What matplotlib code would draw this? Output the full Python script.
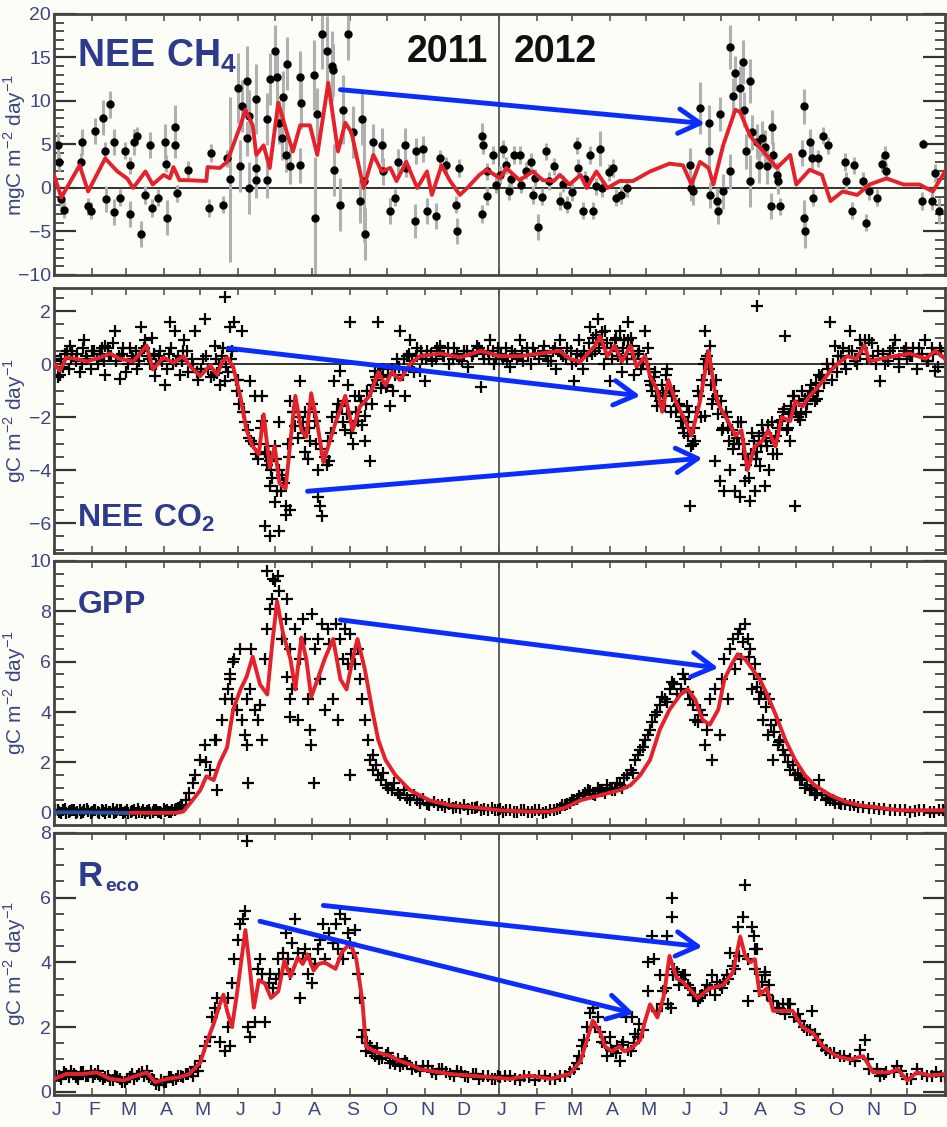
import numpy as np
import matplotlib
matplotlib.use("Agg")
import matplotlib.pyplot as plt
from matplotlib import font_manager
from matplotlib.ticker import MultipleLocator
import matplotlib.transforms as mtransforms

names = {f.name for f in font_manager.fontManager.ttflist}
NARROW = 'Liberation Sans Narrow' if 'Liberation Sans Narrow' in names else 'Liberation Sans'

plt.rcParams['font.family'] = ['Liberation Sans', 'DejaVu Sans']
plt.rcParams['mathtext.fontset'] = 'custom'
plt.rcParams['mathtext.rm'] = 'Liberation Sans'
plt.rcParams['mathtext.bf'] = NARROW + ':bold'

# ---------------- data (day of record, 0 = 1 Jan 2011) ----------------
month_letters = ['J', 'F', 'M', 'A', 'M', 'J', 'J', 'A', 'S', 'O', 'N', 'D'] * 2
month_start = [0, 31, 59, 90, 120, 151, 181, 212, 243, 273, 304, 334,
               365, 396, 425, 456, 486, 517, 547, 578, 609, 639, 670, 700]
year_break = 365
year_labels = ['2011', '2012']

# CH4 smoothed line
ch4_line_day = [0, 6, 21, 28, 42, 52, 60, 65, 75, 81, 90, 95, 98, 103, 109, 125, 126, 136, 142, 153,
                157, 163, 166, 172, 177, 184, 191, 196, 202, 210, 216, 225, 233, 239, 244, 254, 262, 269, 276, 281,
                289, 298, 306, 310, 318, 325, 333, 339, 349, 355, 366, 371, 382, 393, 401, 410, 415, 423, 432, 437,
                445, 454, 464, 475, 489, 505, 516, 523, 530, 537, 541, 549, 559, 563, 571, 582, 593, 604, 609, 620,
                630, 637, 647, 659, 669, 683, 697, 710, 721, 731]
ch4_line_val = [1.5, -1.1, 2.6, -0.4, 3.4, 1.9, 1.1, 0.0, 1.9, 0.4, 1.5, 1.1, 2.4, 0.9, 0.9, 0.8, 2.4, 2.3, 3.0, 7.2,
                9.0, 7.2, 3.8, 4.9, 2.3, 9.8, 6.4, 4.2, 7.2, 7.2, 3.8, 12.1, 4.2, 7.5, 6.4, 0.0, 3.8, 1.9, 2.3, 0.8,
                3.0, 0.0, 1.9, -0.8, 2.6, 0.8, -0.8, 0.0, 1.5, 2.1, 1.1, 2.3, 0.9, 1.9, 0.9, 0.8, 1.5, 0.4, 1.5, 0.0,
                1.9, 0.0, 0.8, 0.8, 1.9, 2.8, 2.6, 0.4, 3.0, 2.3, 0.4, 4.9, 9.0, 8.7, 6.0, 4.2, 2.3, 3.8, 0.4, 2.1,
                1.5, -1.5, -0.4, -0.8, 0.4, 1.1, 0.4, 0.4, -0.4, 1.9]

# CH4 daily observations and their uncertainty
ch4_pt_day = [3, 4, 6, 8, 22, 23, 28, 30, 34, 40, 42, 43, 46, 49, 49, 54, 58, 62, 62, 66,
              68, 71, 75, 79, 80, 85, 91, 92, 93, 99, 99, 101, 110, 127, 129, 139, 142, 144, 151, 153,
              154, 158, 160, 158, 160, 166, 166, 166, 175, 175, 177, 181, 183, 185, 187, 188, 190, 191, 194, 202,
              203, 202, 213, 214, 216, 220, 224, 228, 229, 230, 235, 237, 241, 245, 251, 253, 254, 255, 262, 269,
              270, 276, 280, 282, 288, 289, 296, 297, 303, 306, 313, 317, 322, 330, 331, 332, 351, 352, 351, 355,
              355, 360, 363, 366, 368, 371, 373, 375, 377, 382, 383, 387, 391, 393, 395, 397, 400, 404, 406, 410,
              415, 418, 421, 425, 429, 430, 434, 436, 440, 442, 445, 448, 450, 455, 459, 461, 465, 470, 522, 523,
              524, 530, 537, 537, 538, 544, 545, 546, 549, 555, 555, 557, 559, 563, 565, 566, 568, 571, 571, 573,
              577, 578, 581, 583, 585, 589, 590, 588, 593, 594, 596, 614, 615, 615, 616, 620, 622, 623, 627, 631,
              635, 649, 650, 655, 656, 664, 666, 669, 675, 679, 682, 683, 712, 713, 720, 723, 726]
ch4_pt_val = [4.9, 3.0, -1.3, -2.5, 3.0, 5.3, -2.1, -2.6, 6.6, 8.1, 4.3, -1.3, 9.6, 5.3, -2.8, -1.1, 4.3, 2.6, -3.0, 5.3,
              6.0, -5.3, -0.8, 4.9, -2.3, -1.1, 5.3, 2.8, -3.4, 7.0, 4.9, -0.6, 2.1, -2.3, 4.0, -1.9, 3.4, 1.0, 11.5, 2.5,
              9.4, 12.3, 8.3, 5.7, 0.0, 10.2, 2.3, 0.9, 7.9, 0.9, 12.5, 15.7, 12.8, 7.5, 5.7, 10.4, 3.8, 14.3, 2.5, 12.8,
              9.8, 2.6, 13.0, -3.4, 8.5, 17.7, 15.8, 14.0, 13.6, 2.1, -1.9, 9.0, 17.7, 6.4, -1.5, 7.9, 0.8, -5.3, 5.3, 4.9,
              1.9, -2.6, -1.1, 3.0, 4.9, 2.3, -3.8, 4.2, 4.5, -2.6, -3.2, 3.4, 2.6, -1.9, -4.9, 2.3, 6.0, 4.9, -3.0, 1.9,
              -0.9, 3.8, 0.4, 1.5, 4.5, 2.6, -0.4, 1.0, 3.8, 3.8, 0.4, 2.0, 3.0, -0.8, 1.2, -4.5, -1.0, 4.2, 0.8, 2.5,
              -1.5, 0.5, -1.9, -0.5, 4.9, 2.3, -2.6, 1.0, 3.8, -2.6, 0.2, 4.5, 0.0, 1.8, 2.3, -1.1, -0.8, 0.0, 2.6, 0.0,
              -0.4, 9.2, 7.5, 4.3, -0.8, -1.5, -2.6, 8.5, -0.4, 16.2, 1.9, 10.6, 13.2, 11.5, 14.5, 9.0, 4.2, 12.3, 0.8, 6.4,
              5.3, 2.6, 5.7, 4.7, 2.5, 7.0, 3.8, -2.1, 1.5, 0.8, -2.1, 4.0, 9.4, -3.4, -4.9, 5.3, 3.4, -1.1, 3.4, 6.0,
              4.9, 3.0, 0.8, -2.6, 2.6, 0.8, -4.0, -0.4, -1.1, 2.8, 3.8, 1.9, -1.5, 5.1, -1.5, 1.7, -2.6]
ch4_pt_err = [1.5, 1.0, 1.0, 1.0, 1.0, 1.5, 1.0, 1.0, 1.5, 2.0, 1.0, 1.5, 1.5, 1.5, 1.5, 1.0, 1.0, 1.0, 1.5, 1.5,
              1.0, 1.5, 1.0, 1.5, 1.0, 1.0, 2.0, 1.0, 2.0, 2.5, 1.5, 1.0, 1.0, 1.0, 1.0, 1.0, 1.0, 9.5, 4.0, 3.0,
              3.0, 4.0, 3.0, 2.0, 3.0, 4.0, 2.0, 2.0, 3.0, 2.0, 3.0, 3.0, 3.0, 2.5, 2.5, 3.0, 2.0, 3.0, 2.0, 3.0,
              3.0, 2.0, 4.0, 7.0, 3.0, 4.0, 4.0, 4.0, 3.0, 3.0, 3.0, 4.0, 3.0, 3.0, 2.5, 3.0, 7.0, 3.0, 2.0, 2.0,
              1.5, 1.5, 1.0, 1.5, 2.0, 1.0, 2.0, 1.5, 1.5, 1.5, 1.5, 1.0, 1.0, 1.0, 1.5, 1.0, 1.5, 1.0, 1.0, 1.0,
              1.0, 1.0, 1.0, 1.0, 1.0, 1.0, 1.0, 1.0, 1.0, 1.0, 1.0, 1.0, 1.0, 1.0, 1.0, 1.5, 1.0, 1.0, 1.0, 1.0,
              1.0, 1.0, 1.0, 1.0, 1.0, 1.0, 1.0, 1.0, 1.0, 1.0, 1.0, 2.0, 1.0, 1.0, 1.0, 1.0, 1.0, 1.0, 2.0, 1.5,
              1.5, 3.0, 2.0, 2.0, 1.5, 1.5, 1.5, 2.0, 2.0, 2.5, 2.0, 2.0, 2.0, 2.5, 2.5, 2.0, 2.0, 2.5, 3.0, 2.0,
              2.0, 2.0, 2.0, 2.0, 2.0, 2.0, 1.5, 1.5, 1.5, 1.5, 1.0, 1.5, 2.0, 2.0, 2.0, 1.5, 1.5, 1.0, 1.0, 1.0,
              1.0, 1.0, 1.0, 1.0, 1.0, 1.0, 1.0, 1.0, 1.0, 1.0, 1.0, 1.0, 1.0, 0.5, 1.0, 1.0, 1.5]

# CO2 smoothed line
co2_line_day = [0, 5, 10, 18, 27, 38, 46, 54, 65, 76, 81, 90, 98, 106, 112, 120, 128, 134, 138, 142,
                147, 153, 158, 163, 168, 172, 177, 181, 185, 190, 194, 198, 203, 207, 211, 216, 221, 231, 239, 245,
                251, 259, 266, 272, 277, 284, 292, 300, 317, 333, 350, 366, 382, 399, 415, 423, 432, 444, 448, 454,
                460, 466, 473, 478, 485, 489, 495, 499, 504, 510, 518, 523, 530, 537, 542, 546, 553, 559, 564, 569,
                575, 581, 586, 592, 597, 604, 608, 614, 620, 628, 637, 645, 651, 658, 665, 669, 678, 690, 702, 715,
                723, 731]
co2_line_val = [0.0, -0.25, 0.25, 0.2, 0.1, 0.25, 0.4, 0.2, 0.1, 0.7, -0.2, 0.25, 0.05, 0.3, -0.1, -0.45, -0.05, -0.4, 0.1, 0.25,
                -0.1, -1.25, -2.5, -3.1, -3.4, -1.9, -3.9, -3.1, -4.5, -4.7, -2.9, -1.2, -2.5, -2.75, -1.1, -2.25, -3.7, -2.2, -1.2, -2.5,
                -1.6, -1.2, -0.3, -0.8, -0.3, -0.6, 0.0, 0.3, 0.4, 0.25, 0.5, 0.3, 0.3, 0.4, 0.5, 0.2, 0.1, 0.7, 1.05, 0.3,
                0.7, 0.1, 0.7, -0.1, 0.3, -0.45, -1.0, -1.8, -0.6, -1.4, -2.15, -2.7, -1.4, 0.5, -1.0, -1.6, -2.15, -2.7, -2.5, -4.0,
                -3.1, -2.9, -2.5, -3.1, -2.0, -2.15, -1.4, -1.6, -1.2, -0.8, -0.25, 0.1, 0.3, 0.2, 0.7, 0.1, 0.2, 0.3, 0.4, 0.2,
                0.5, 0.2]

# CO2 daily observations
co2_pt_day = [0, 3, 5, 6, 9, 12, 13, 15, 18, 21, 24, 25, 27, 30, 33, 36, 39, 42, 42, 45,
              48, 50, 51, 54, 56, 59, 62, 65, 68, 71, 72, 75, 77, 79, 80, 83, 84, 87, 91, 93,
              95, 96, 99, 100, 103, 106, 107, 110, 113, 116, 118, 121, 124, 125, 129, 132, 133, 134, 136, 139,
              140, 140, 143, 144, 146, 148, 150, 152, 154, 156, 159, 161, 162, 165, 166, 169, 171, 171, 173, 173,
              175, 177, 177, 177, 179, 181, 181, 183, 185, 185, 185, 187, 190, 190, 192, 194, 194, 196, 198, 200,
              202, 204, 206, 206, 208, 210, 212, 214, 215, 217, 217, 218, 220, 222, 225, 226, 228, 230, 233, 235,
              237, 239, 239, 241, 243, 245, 247, 249, 250, 253, 255, 255, 257, 259, 261, 263, 264, 266, 268, 270,
              272, 274, 276, 278, 281, 284, 286, 288, 290, 292, 295, 298, 300, 302, 304, 306, 310, 314, 317, 320,
              324, 328, 332, 336, 340, 344, 347, 350, 353, 356, 358, 361, 364, 368, 371, 374, 378, 382, 385, 388,
              391, 395, 402, 405, 409, 412, 415, 418, 421, 425, 427, 429, 431, 434, 437, 440, 442, 444, 446, 449,
              451, 452, 454, 456, 458, 461, 463, 464, 466, 468, 470, 471, 473, 474, 476, 479, 482, 485, 487, 489,
              491, 493, 495, 497, 499, 501, 503, 506, 509, 512, 514, 516, 519, 520, 522, 524, 526, 528, 531, 534,
              534, 536, 538, 540, 542, 544, 546, 548, 550, 552, 555, 557, 559, 561, 563, 565, 567, 569, 571, 573,
              575, 577, 577, 579, 581, 583, 585, 587, 589, 591, 593, 596, 598, 600, 602, 604, 606, 608, 610, 612,
              614, 617, 619, 621, 624, 626, 628, 630, 634, 637, 638, 641, 643, 647, 650, 653, 655, 659, 661, 663,
              667, 669, 671, 674, 678, 680, 684, 688, 690, 693, 697, 700, 702, 705, 708, 712, 715, 717, 720, 723,
              725, 728, 731,
              1, 7, 11, 14, 19, 23, 26, 31, 35, 38, 41, 44, 47, 53, 57, 61, 64, 67, 70, 74,
              78, 82, 86, 89, 94, 98, 102, 105, 109, 114, 117, 122, 126, 131, 135, 138, 141, 145, 149,
              151, 155, 157, 160, 164, 167, 170, 174, 178, 182, 186, 189, 193, 197, 201, 205, 209, 213, 219, 224,
              227, 232, 236, 240, 244, 248, 252, 256, 260, 262, 265, 269, 273, 277, 280, 283, 287, 291, 294, 297,
              301, 305, 309, 313, 316, 319, 323, 327, 331, 335, 339, 343, 349, 352, 357, 360, 363,
              367, 372, 376, 380, 384, 389, 393, 398, 401, 404, 408, 411, 416, 420, 424, 428, 432, 435, 439, 441,
              445, 447, 450, 453, 457, 460, 462, 465, 467, 471, 474, 477, 480, 483, 486,
              488, 490, 492, 494, 497, 500, 502, 505, 507, 510, 513, 515, 517, 520, 521, 523, 525, 527, 529, 532,
              533, 535, 537, 539, 541, 543, 545, 547, 549, 551, 553, 554, 556, 558, 560, 562, 564, 566, 568, 570,
              572, 574, 576, 578, 580, 582, 584, 586, 588, 590, 592, 594, 597, 599, 601, 603, 605, 607, 609, 611,
              613, 616, 618, 620, 623, 625, 627, 629, 632, 635, 639, 642, 646, 649, 652, 657, 661, 665, 672, 676,
              682, 686, 693, 699, 704, 710, 716, 721, 727]
co2_pt_val = [0.3, -0.5, -0.4, 0.2, 0.4, -0.2, 0.7, 0.5, 0.1, -0.3, 0.6, 0.9, 0.2, -0.2, 0.5, 0.0, 0.6, 0.7, -0.4, 0.3,
              0.8, 1.25, 0.1, -0.55, 0.4, -0.3, 0.6, 0.2, -0.2, 1.4, 0.5, 0.9, 0.3, 0.0, 1.0, -0.45, 0.0, 0.5, -0.8, -0.2,
              1.6, 0.6, 1.25, 0.1, -0.4, 0.5, 0.9, -0.3, 0.2, 1.25, -0.6, -0.2, 1.7, 0.3, -0.5, 0.7, 0.2, -0.35, -0.8, 0.6,
              2.55, -0.65, -0.3, 1.4, 0.5, 1.6, -1.0, -1.5, 1.25, -1.8, -2.5, -0.65, -2.9, -1.2, -3.4, -3.0, -2.15, -1.2, -3.3, -6.1,
              -3.8, -3.65, -4.6, -6.5, -4.3, -5.2, -3.1, -4.8, -4.0, -6.3, -2.2, -4.2, -5.35, -5.7, -3.0, -1.4, -5.5, -1.8, -2.35, -2.8,
              -0.65, -2.2, -3.3, -1.8, -3.6, -2.9, -1.5, -2.15, -3.0, -5.0, -4.0, -5.35, -5.75, -3.5, -2.9, -3.65, -2.0, -0.65, -1.5, -0.25,
              -2.2, -1.4, -2.5, -0.8, 1.6, -3.0, -1.2, -2.15, -1.2, -2.3, -2.9, -1.95, -1.0, -3.65, -1.5, -0.25, -0.5, 1.6, -0.9, -0.2,
              -0.85, -0.4, -1.6, -1.0, 0.2, 1.25, -0.4, -1.2, 0.3, 0.9, -0.3, 0.6, -0.25, 0.2, -0.65, 0.5, 0.1, 0.6, 0.7, 0.3,
              0.0, 0.6, 0.2, 0.5, -0.1, 0.4, 0.7, -0.85, 0.2, 0.5, 0.9, 0.0, 0.6, 0.2, 0.6, -0.1, 0.4, 0.9, 0.1, 0.6,
              0.0, 0.4, 0.7, 0.1, 0.5, -0.2, 0.9, 0.3, 0.6, 0.0, -0.65, 0.4, 0.9, -0.2, 0.3, 1.4, 1.0, 0.5, 1.7, 0.9,
              0.0, 1.25, 0.8, -0.65, 0.2, 1.0, 0.3, 1.25, -0.3, 0.9, 0.2, 1.6, 1.0, 0.7, -0.4, 0.4, -0.2, 1.25, 0.6, -0.65,
              -1.0, -0.3, -1.6, -1.2, -0.8, -1.6, -0.2, -1.8, -1.0, -1.6, -2.15, -2.4, -1.6, -2.7, -5.35, -3.0, -2.9, -1.0, -2.0, 1.25,
              -1.95, 0.3, 0.7, -1.5, -3.65, -1.2, -4.4, -2.5, -4.8, -2.0, -4.0, -3.2, -4.8, -2.2, -5.0, -3.4, -4.4, -3.6, -5.15, -2.6,
              -4.8, 2.2, -3.3, -3.85, -2.3, -4.6, -3.1, -4.0, -2.2, -2.9, -3.4, -2.15, -1.8, 1.05, -2.4, -2.9, -1.2, -5.35, -2.0, -2.1,
              -1.0, -1.8, -1.2, -0.8, -1.4, -1.3, -0.4, -0.4, 0.0, 1.6, -0.6, 0.7, 0.3, 0.6, -0.2, 1.25, 0.5, 0.0, 0.9, 0.6,
              0.2, 0.9, 0.8, 0.0, -0.65, 0.4, 0.1, 0.6, 0.9, -0.1, 0.5, 0.2, 0.3, 0.6, -0.2, 0.4, 0.9, 0.1, 0.6, -0.25,
              -0.1, 0.5, 0.3,
              0.1, -0.1, 0.5, 0.2, 0.4, 0.0, 0.3, 0.5, 0.2, 0.4, 0.1, 0.6, 0.3, 0.3, 0.6, 0.0, 0.3, 0.5, 0.1, 0.6,
              0.2, 0.4, 0.3, 0.1, 0.4, 0.0, 0.3, 0.1, 0.5, 0.0, -0.3, 0.2, -0.2, -0.4, 0.0, 0.3, -0.1, 0.2, -0.6,
              -0.6, -1.8, -2.2, -2.8, -3.0, -3.6, -2.4, -3.4, -4.0, -3.6, -4.8, -4.5, -3.5, -1.8, -2.0, -2.6, -2.4, -1.8, -3.2, -3.8,
              -2.6, -1.8, -1.6, -1.9, -2.6, -1.8, -1.4, -1.5, -1.0, -0.8, -0.6, -0.5, -0.8, -0.2, -0.4, -0.1, 0.2, 0.4, 0.1, 0.3,
              0.5, 0.2, 0.4, 0.2, 0.5, 0.3, 0.6, 0.2, 0.4, 0.1, 0.5, 0.3, 0.6, 0.4, 0.2, 0.5, 0.2,
              0.4, 0.1, 0.5, 0.2, 0.5, 0.3, 0.6, 0.2, 0.5, 0.3, 0.1, 0.6, 0.4, 0.2, 0.5, 0.1, 0.3, 0.5, 0.8, 0.4,
              1.1, 0.6, 1.2, 0.4, 0.6, 0.9, 0.5, 0.2, 0.6, 0.9, 0.4, 0.2, 0.5, 0.0, 0.2,
              -0.2, -0.8, -0.5, -1.2, -1.4, -1.1, -0.4, -1.0, -1.2, -1.8, -1.5, -2.0, -2.6, -2.2, -1.8, -3.1, -2.4, -1.8, -1.2, -0.6,
              0.0, 0.2, -0.2, -0.8, -1.3, -0.6, -1.9, -1.4, -2.4, -1.8, -2.4, -2.9, -2.5, -3.0, -2.8, -3.0, -2.2, -3.0, -3.8, -4.3,
              -3.4, -2.9, -3.6, -2.7, -3.1, -2.6, -2.9, -2.3, -2.8, -3.4, -2.7, -2.4, -2.1, -1.7, -2.5, -1.9, -1.6, -1.2, -1.8, -1.4,
              -1.9, -1.3, -1.5, -1.0, -1.1, -0.7, -1.0, -0.5, -0.7, -0.2, 0.0, -0.3, 0.3, 0.0, 0.5, 0.1, 0.4, 0.9, 0.3, 0.5,
              0.0, 0.5, 0.2, 0.6, 0.3, 0.6, 0.1, 0.4, 0.6]

# GPP smoothed line (first stretch plotted in blue)
gpp_line_day = [0, 20, 40, 60, 80, 100, 106, 112, 120, 125, 131, 136, 142, 147, 153, 158, 163, 169, 175, 179,
                183, 188, 194, 198, 203, 207, 211, 217, 222, 229, 235, 240, 245, 249, 255, 261, 266, 272, 280, 292,
                308, 325, 349, 366, 390, 407, 419, 432, 448, 464, 473, 481, 489, 497, 505, 514, 520, 526, 532, 538,
                545, 550, 556, 561, 567, 573, 579, 585, 592, 600, 608, 616, 624, 637, 649, 661, 678, 694, 731]
gpp_line_val = [0.02, 0.02, 0.01, 0.0, 0.0, 0.0, 0.05, 0.4, 0.9, 1.45, 1.3, 2.0, 2.6, 4.1, 4.9, 5.4, 6.2, 5.1, 4.7, 6.7,
                8.4, 7.1, 6.1, 4.9, 6.96, 6.1, 4.6, 5.4, 6.1, 6.9, 5.3, 4.9, 6.1, 6.9, 5.7, 4.1, 2.9, 2.1, 1.5, 0.9,
                0.5, 0.3, 0.2, 0.1, 0.05, 0.05, 0.2, 0.5, 0.7, 0.9, 1.1, 1.5, 2.1, 3.3, 4.1, 4.7, 4.9, 4.5, 3.7, 3.5,
                4.1, 5.3, 5.9, 6.3, 6.1, 5.7, 5.3, 4.7, 3.9, 2.9, 2.1, 1.5, 1.1, 0.7, 0.45, 0.3, 0.2, 0.1, 0.1]
gpp_blue_until = 60

gpp_pt_day = [0, 3, 6, 9, 12, 15, 18, 21, 24, 27, 30, 33, 36, 39, 42, 45, 48, 51, 54, 57,
              60, 63, 66, 69, 72, 75, 78, 81, 84, 87, 90, 93, 96, 99, 102, 105, 108, 111, 114, 116,
              120, 124, 125, 128, 132, 133, 134, 138, 140, 143, 144, 144, 146, 147, 148, 150, 153, 154, 157, 158,
              158, 159, 161, 162, 165, 167, 169, 171, 173, 175, 175, 177, 179, 180, 181, 184, 185, 187, 190, 191,
              191, 194, 194, 194, 195, 198, 200, 202, 204, 206, 208, 210, 211, 212, 213, 214, 217, 218, 220, 222,
              225, 226, 229, 231, 233, 235, 237, 239, 241, 243, 243, 244, 247, 249, 251, 253, 255, 258, 259, 262,
              266, 272, 277, 284, 292, 300, 308, 315, 321, 327, 333, 340, 345, 350, 356, 362, 368, 374, 380, 386,
              392, 398, 404, 410, 415, 419, 423, 427, 431, 436, 440, 444, 448, 452, 456, 460, 464, 468, 473, 477,
              481, 485, 489, 493, 497, 501, 505, 509, 514, 518, 522, 526, 530, 534, 538, 540, 542, 546, 548, 550,
              553, 555, 557, 559, 561, 563, 564, 567, 569, 571, 573, 575, 578, 579, 582, 583, 586, 587, 590, 592,
              594, 596, 600, 604, 608, 612, 616, 620, 624, 628, 633, 637, 641, 646, 653, 660, 669, 677, 686, 694,
              702, 710, 719, 726, 731,
              1, 4, 7, 10, 13, 16, 19, 22, 25, 28, 31, 34, 37, 40, 43, 46, 49, 52, 55, 58,
              61, 64, 67, 70, 73, 76, 79, 82, 85, 88, 91, 94, 97, 100, 103,
              262, 264, 268, 270, 274, 279, 282, 287, 290, 295, 298, 303, 306, 312, 318, 324, 330, 336, 343, 347,
              353, 359, 364,
              366, 371, 377, 383, 389, 395, 401, 407, 413, 417, 421, 425, 429, 434, 438, 442, 446, 450, 454, 458,
              462, 466, 470, 475, 479, 483, 487, 491, 495, 499, 503, 507, 511, 516, 520, 524, 528, 532, 536,
              565, 570, 574, 577, 580, 584, 588, 591, 595, 598, 602, 606, 610, 614, 618, 622, 626, 630, 635, 639,
              644, 649, 656, 664, 673, 681, 690, 698, 706, 714, 722, 729]
gpp_pt_val = [0.05, 0.1, 0.0, 0.15, 0.05, 0.1, 0.0, 0.1, 0.05, 0.15, 0.0, 0.1, 0.05, 0.1, 0.0, 0.05, 0.15, 0.05, 0.1, 0.0,
              0.1, 0.05, 0.1, 0.15, 0.05, 0.0, 0.1, 0.05, 0.1, 0.05, 0.15, 0.1, 0.05, 0.1, 0.2, 0.3, 0.5, 0.8, 1.2, 1.5,
              2.1, 2.7, 2.0, 1.7, 2.9, 2.9, 0.9, 3.7, 4.5, 4.9, 5.5, 5.3, 4.5, 6.0, 6.1, 4.1, 6.5, 3.7, 3.1, 4.5,
              2.7, 1.2, 4.9, 6.5, 4.1, 3.7, 4.3, 2.9, 6.1, 7.3, 9.6, 8.1, 8.5, 9.3, 9.2, 9.4, 8.8, 6.9, 7.7, 8.5,
              5.4, 6.5, 4.5, 3.8, 4.9, 7.3, 3.7, 6.1, 7.7, 6.9, 4.5, 3.3, 2.7, 7.9, 1.2, 6.5, 6.9, 5.3, 7.5, 4.1,
              7.3, 6.7, 4.5, 7.5, 3.7, 6.9, 6.1, 7.3, 5.9, 7.1, 1.5, 6.3, 5.9, 6.5, 5.3, 4.5, 3.7, 2.9, 2.1, 1.7,
              1.5, 1.1, 0.9, 0.7, 0.5, 0.4, 0.3, 0.3, 0.25, 0.2, 0.2, 0.15, 0.2, 0.12, 0.1, 0.1, 0.05, 0.1, 0.05, 0.1,
              0.05, 0.1, 0.05, 0.1, 0.2, 0.3, 0.4, 0.5, 0.65, 0.8, 0.85, 0.7, 0.9, 0.8, 1.0, 0.9, 1.1, 1.4, 1.7, 2.1,
              2.5, 2.9, 3.3, 3.9, 4.3, 4.5, 4.9, 5.1, 4.9, 5.3, 4.5, 3.7, 4.1, 2.7, 4.5, 2.1, 4.9, 3.1, 5.3, 6.1,
              4.5, 6.5, 6.9, 5.7, 7.1, 7.3, 6.1, 7.5, 6.9, 6.5, 4.9, 5.9, 4.5, 5.3, 3.7, 4.7, 3.1, 4.5, 2.1, 3.7,
              2.7, 2.9, 2.3, 1.7, 1.5, 1.3, 1.0, 0.9, 0.7, 1.3, 0.5, 0.5, 0.4, 0.35, 0.3, 0.25, 0.2, 0.15, 0.1, 0.1,
              0.05, 0.1, 0.05, 0.1, 0.05,
              0.1, 0.05, 0.12, 0.0, 0.08, 0.12, 0.05, 0.0, 0.1, 0.08, 0.05, 0.12, 0.0, 0.08, 0.1, 0.05, 0.0, 0.1, 0.12, 0.05,
              0.0, 0.08, 0.0, 0.05, 0.1, 0.08, 0.0, 0.12, 0.05, 0.0, 0.08, 0.05, 0.12, 0.15, 0.25,
              2.3, 1.9, 1.3, 1.6, 1.0, 1.2, 0.8, 0.9, 0.6, 0.7, 0.5, 0.55, 0.35, 0.45, 0.3, 0.35, 0.25, 0.3, 0.2, 0.25,
              0.15, 0.2, 0.1,
              0.15, 0.1, 0.05, 0.12, 0.05, 0.1, 0.0, 0.1, 0.15, 0.3, 0.35, 0.5, 0.55, 0.7, 0.9, 0.75, 1.0, 0.85, 1.1, 0.9,
              1.2, 1.0, 1.5, 1.6, 2.3, 2.6, 3.1, 3.6, 4.0, 4.6, 4.4, 5.2, 4.7, 5.5, 4.8, 4.3, 3.6, 3.9, 3.3,
              6.8, 6.2, 5.5, 5.0, 4.8, 4.2, 3.5, 3.2, 2.8, 2.5, 2.0, 1.9, 1.6, 1.4, 1.1, 1.0, 0.8, 0.7, 0.6, 0.5,
              0.4, 0.35, 0.3, 0.25, 0.2, 0.15, 0.1, 0.12, 0.08, 0.1, 0.05, 0.1]

# Reco smoothed line
reco_line_day = [0, 10, 24, 35, 46, 57, 68, 76, 83, 93, 103, 111, 120, 125, 131, 136, 139, 142, 146, 150,
                 154, 157, 160, 164, 168, 173, 178, 184, 189, 194, 200, 204, 208, 213, 217, 222, 231, 236, 243, 248,
                 253, 256, 263, 276, 284, 292, 300, 308, 325, 341, 358, 374, 390, 407, 423, 432, 438, 442, 448, 452,
                 458, 464, 468, 474, 481, 485, 489, 495, 500, 505, 511, 516, 528, 538, 549, 557, 563, 567, 571, 575,
                 579, 585, 590, 598, 606, 614, 623, 631, 642, 653, 664, 672, 686, 692, 700, 708, 719, 731]
reco_line_val = [0.4, 0.55, 0.55, 0.6, 0.4, 0.35, 0.5, 0.6, 0.3, 0.4, 0.45, 0.55, 0.9, 1.5, 2.1, 2.7, 3.0, 2.5, 2.0, 3.0,
                 4.15, 5.0, 4.05, 2.6, 3.45, 3.35, 2.9, 3.1, 4.05, 3.55, 4.15, 3.95, 4.25, 3.75, 3.95, 4.0, 3.8, 4.3, 4.6, 4.1,
                 2.8, 1.4, 1.25, 1.1, 0.95, 0.85, 0.7, 0.65, 0.55, 0.5, 0.45, 0.4, 0.5, 0.4, 0.55, 0.95, 1.7, 2.2, 1.85, 1.4,
                 1.25, 1.4, 1.25, 1.35, 1.6, 2.2, 2.7, 2.3, 2.9, 4.2, 3.5, 3.4, 2.9, 3.2, 3.3, 3.7, 4.8, 4.2, 4.0, 4.1,
                 3.0, 3.2, 2.5, 2.5, 2.5, 2.0, 1.8, 1.4, 1.1, 1.0, 1.1, 0.6, 0.6, 0.7, 0.35, 0.6, 0.5, 0.55]

reco_pt_day = [0, 4, 8, 12, 16, 20, 24, 28, 32, 36, 40, 44, 48, 52, 56, 60, 64, 68, 72, 76,
               80, 84, 88, 92, 96, 100, 104, 108, 112, 116, 120, 124, 128, 130, 132, 134, 136, 140, 143, 143,
               144, 146, 148, 151, 153, 155, 157, 158, 159, 161, 165, 167, 169, 171, 173, 176, 177, 180, 182, 184,
               185, 188, 190, 192, 194, 195, 198, 200, 202, 204, 206, 208, 210, 212, 214, 217, 218, 221, 222, 226,
               229, 231, 233, 235, 237, 239, 241, 243, 245, 247, 249, 251, 253, 256, 259, 263, 267, 272, 276, 280,
               284, 288, 294, 300, 307, 313, 318, 325, 331, 337, 344, 349, 356, 362, 370, 378, 386, 395, 403, 411,
               419, 427, 433, 437, 440, 442, 446, 448, 450, 454, 456, 459, 462, 464, 467, 469, 473, 474, 477, 480,
               487, 487, 491, 492, 495, 497, 500, 503, 504, 506, 507, 507, 508, 511, 514, 516, 520, 524, 528, 532,
               536, 540, 544, 548, 552, 555, 557, 561, 565, 567, 569, 569, 573, 574, 575, 575, 578, 581, 583, 587,
               593, 598, 604, 610, 615, 622, 624, 630, 637, 645, 653, 661, 665, 669, 678, 683, 692, 700, 708, 716,
               724, 731,
               2, 6, 10, 14, 18, 22, 26, 30, 34, 38, 42, 46, 50, 54, 58, 62, 66, 70, 74, 78,
               82, 86, 90, 94, 98, 102, 106, 110, 114, 118,
               254, 257, 261, 265, 269, 274, 278, 282, 286, 290, 297, 303, 310, 316, 322, 328, 334, 340, 346, 352,
               359, 364,
               366, 374, 382, 390, 398, 407, 415, 423, 429, 431, 435, 444, 452, 457, 461, 466, 471, 476, 479, 483,
               499, 502, 509, 513, 518, 522, 526, 530, 534, 538, 542, 546, 550, 553, 559, 562, 577, 583, 585, 590,
               595, 600, 602, 607, 612, 618, 620, 627, 633, 640, 648, 657, 668, 675, 681, 689, 695, 703, 712, 720,
               728]
reco_pt_val = [0.35, 0.5, 0.6, 0.45, 0.55, 0.4, 0.6, 0.5, 0.45, 0.65, 0.4, 0.5, 0.35, 0.45, 0.3, 0.4, 0.55, 0.5, 0.6, 0.65,
               0.4, 0.25, 0.35, 0.3, 0.45, 0.4, 0.5, 0.55, 0.6, 0.75, 0.95, 1.4, 1.7, 2.3, 2.6, 2.9, 1.55, 1.25, 2.0, 2.9,
               1.4, 3.35, 4.1, 4.7, 5.2, 5.35, 5.6, 7.75, 2.0, 1.7, 2.15, 3.8, 4.1, 3.65, 2.15, 3.35, 3.65, 3.2, 3.5, 4.1,
               3.65, 4.3, 4.9, 4.1, 3.65, 4.6, 5.35, 4.3, 2.9, 4.1, 4.4, 3.65, 4.1, 3.35, 3.95, 4.4, 4.7, 5.2, 4.1, 4.9,
               4.6, 5.2, 4.4, 5.5, 4.1, 5.35, 4.9, 4.6, 4.3, 5.0, 3.65, 2.9, 1.7, 1.25, 1.4, 1.1, 1.0, 1.15, 0.9, 0.85,
               0.8, 0.95, 0.7, 0.65, 0.8, 0.55, 0.7, 0.55, 0.65, 0.5, 0.55, 0.4, 0.5, 0.4, 0.5, 0.4, 0.5, 0.35, 0.5, 0.4,
               0.5, 0.7, 1.4, 2.0, 2.45, 2.6, 2.3, 1.85, 1.55, 1.1, 1.7, 1.25, 1.4, 0.95, 1.55, 2.3, 1.25, 2.3, 1.8, 2.1,
               3.1, 4.0, 4.8, 4.1, 2.5, 3.6, 3.1, 4.8, 2.7, 2.6, 5.4, 6.0, 3.6, 3.7, 3.5, 3.6, 3.3, 3.0, 2.8, 3.0,
               3.3, 3.6, 3.4, 3.2, 3.6, 4.3, 3.9, 5.1, 5.4, 6.4, 4.1, 2.8, 5.1, 4.8, 4.4, 3.8, 3.1, 3.4, 3.7, 3.3,
               2.6, 2.7, 2.7, 2.4, 2.0, 2.5, 1.8, 1.4, 1.2, 1.1, 1.0, 1.3, 1.6, 0.7, 0.5, 0.6, 0.8, 0.4, 0.7, 0.5,
               0.6, 0.5,
               0.5, 0.4, 0.55, 0.65, 0.45, 0.6, 0.5, 0.65, 0.55, 0.5, 0.45, 0.35, 0.5, 0.4, 0.3, 0.45, 0.4, 0.55, 0.5, 0.45,
               0.35, 0.2, 0.3, 0.45, 0.35, 0.5, 0.45, 0.55, 0.5, 0.65,
               1.9, 1.5, 1.2, 1.35, 1.05, 1.2, 0.95, 1.0, 0.85, 0.9, 0.75, 0.8, 0.6, 0.7, 0.6, 0.5, 0.6, 0.45, 0.55, 0.5,
               0.4, 0.5,
               0.45, 0.5, 0.35, 0.45, 0.5, 0.4, 0.5, 0.6, 0.9, 1.1, 1.6, 2.0, 1.5, 1.3, 1.2, 1.45, 1.3, 1.5, 1.7, 1.9,
               2.7, 3.2, 3.8, 3.3, 3.6, 3.2, 3.0, 2.9, 3.1, 3.2, 3.0, 3.3, 3.4, 3.5, 3.8, 4.2, 4.4, 3.6, 3.0, 2.8,
               2.6, 2.4, 2.7, 2.3, 2.2, 1.9, 1.9, 1.6, 1.3, 1.2, 1.1, 0.95, 1.0, 0.7, 0.55, 0.6, 0.65, 0.4, 0.55, 0.5,
               0.5]

# ---------------- figure ----------------
BG = '#fdfdf7'
RED = '#e3222b'
BLUE_ARROW = '#0b2cff'
LABEL_BLUE = '#2e3a8c'
TICK_COL = '#3d4580'

fig = plt.figure(figsize=(9.47, 11.27), dpi=100, facecolor=BG)
L, W = 54 / 947, 891 / 947
rects = [(L, 0.756, W, 0.2316), (L, 0.5093, W, 0.2351), (L, 0.268, W, 0.2343), (L, 0.0284, W, 0.2325)]
axes = [fig.add_axes(r) for r in rects]
ylims = [(-10, 20), (-7.13, 2.87), (-0.48, 10), (-0.1, 8)]
majors = [5, 2, 2, 2]
minors = [1, 0.5, 0.5, 0.5]
ylabels = ['mgC m$^{-2}$ day$^{-1}$', 'gC m$^{-2}$ day$^{-1}$', 'gC m$^{-2}$ day$^{-1}$', 'gC m$^{-2}$ day$^{-1}$']

for ax, yl, mj, mn, lab in zip(axes, ylims, majors, minors, ylabels):
    ax.set_facecolor(BG)
    ax.set_xlim(0, 731)
    ax.set_ylim(*yl)
    ax.yaxis.set_major_locator(MultipleLocator(mj))
    ax.yaxis.set_minor_locator(MultipleLocator(mn))
    ax.set_xticks(month_start)
    ax.tick_params(axis='x', which='major', direction='in', length=5, width=1.2, color='#555555',
                   top=True, bottom=True, labelbottom=False)
    ax.tick_params(axis='y', which='major', direction='in', length=16, width=1.6, color='#333333',
                   left=True, right=True, labelsize=14, labelcolor=TICK_COL, pad=2)
    ax.tick_params(axis='y', which='minor', direction='in', length=7, width=1.2, color='#333333',
                   left=True, right=True)
    for lbl in ax.get_yticklabels():
        lbl.set_family(NARROW)
    for s in ax.spines.values():
        s.set_linewidth(2.0)
        s.set_color('#444444')
    ax.axvline(year_break, color='#555555', lw=1.3, zorder=1)
    ax.set_ylabel(lab, fontsize=15, color=TICK_COL, family=NARROW)
    ax.yaxis.set_label_coords(-0.029, 0.5)

a1, a2, a3, a4 = axes

# Panel 1: CH4
a1.axhline(0, color='#222222', lw=1.3, zorder=1)
a1.errorbar(ch4_pt_day, ch4_pt_val, yerr=ch4_pt_err, fmt='o', ms=5, color='black',
            ecolor='#b0b0b0', elinewidth=2.2, capsize=0, zorder=2)
a1.plot(ch4_line_day, ch4_line_val, color=RED, lw=2.8, zorder=3)
a1.text(0.026, 0.91, r'$\mathbf{NEE\ CH_4}$', transform=a1.transAxes, fontsize=27,
        color=LABEL_BLUE, va='top', ha='left')
a1.text(323, 15.6, year_labels[0], fontsize=27, fontweight='bold', family=NARROW,
        ha='center', va='center', color='#111111')
a1.text(411, 15.6, year_labels[1], fontsize=27, fontweight='bold', family=NARROW,
        ha='center', va='center', color='#111111')

# Panel 2: CO2
a2.axhline(0, color='#222222', lw=1.3, zorder=1)
a2.plot(co2_pt_day, co2_pt_val, '+', ms=9, mew=1.6, color='black', zorder=2)
a2.plot(co2_line_day, co2_line_val, color=RED, lw=2.8, zorder=3)
a2.text(0.026, 0.07, r'$\mathbf{NEE\ CO_2}$', transform=a2.transAxes, fontsize=23,
        color=LABEL_BLUE, va='bottom', ha='left')

# Panel 3: GPP
gd = np.array(gpp_line_day)
gv = np.array(gpp_line_val)
blue = gd <= gpp_blue_until
a3.plot(gpp_pt_day, gpp_pt_val, '+', ms=9, mew=1.6, color='black', zorder=2)
a3.plot(gd[gd >= gpp_blue_until], gv[gd >= gpp_blue_until], color=RED, lw=2.8, zorder=3)
a3.plot(gd[blue], gv[blue], color='#2a4f9c', lw=2.8, zorder=3)
a3.text(0.026, 0.89, r'$\mathbf{GPP}$', transform=a3.transAxes, fontsize=23,
        color=LABEL_BLUE, va='top', ha='left')

# Panel 4: Reco
a4.plot(reco_pt_day, reco_pt_val, '+', ms=9, mew=1.6, color='black', zorder=2)
a4.plot(reco_line_day, reco_line_val, color=RED, lw=2.8, zorder=3)
a4.text(0.026, 0.895, r'$\mathbf{R}$', transform=a4.transAxes, fontsize=25,
        color=LABEL_BLUE, va='top', ha='left')
a4.text(0.057, 0.765, r'$\mathbf{eco}$', transform=a4.transAxes, fontsize=14,
        color=LABEL_BLUE, va='bottom', ha='left')

# month letters under the last panel
trans = mtransforms.blended_transform_factory(a4.transData, a4.transAxes)
for d, m in zip(month_start, month_letters):
    a4.text(d + 2, -0.025, m, transform=trans, ha='center', va='top', fontsize=14,
            color=TICK_COL, family=NARROW)

# blue arrows linking the 2011 and 2012 features
def arrow(ax, start, end):
    ax.annotate('', xy=end, xytext=start,
                arrowprops=dict(arrowstyle='->,head_length=0.7,head_width=0.4', color=BLUE_ARROW,
                                lw=3.5, shrinkA=0, shrinkB=0, mutation_scale=22), zorder=6)

arrow(a1, (235, 11.3), (534, 7.4))
arrow(a2, (143, 0.6), (481, -1.2))
arrow(a2, (208, -4.8), (532, -3.55))
arrow(a3, (235, 7.66), (545, 5.75))
arrow(a4, (169, 5.27), (476, 2.42))
arrow(a4, (221, 5.76), (532, 4.48))

fig.savefig('out.png', dpi=100, facecolor=BG)
